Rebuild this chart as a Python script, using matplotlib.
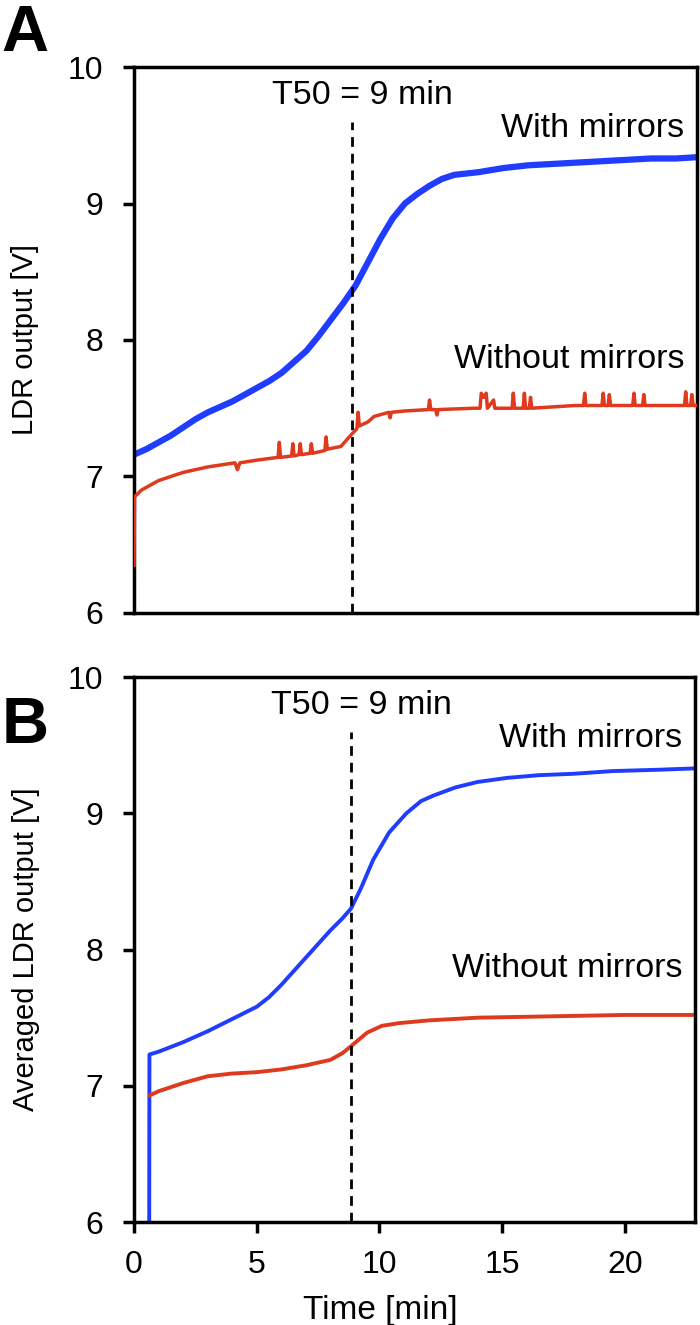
import numpy as np
import matplotlib.pyplot as plt

plt.rcParams['font.family'] = ['Liberation Sans', 'DejaVu Sans']

# panel A, raw LDR output
blue_a_t = [0, 0.5, 1, 1.5, 2, 2.5, 3, 3.5, 4, 4.5, 5, 5.5, 6, 6.5, 7, 7.5, 8, 8.5, 9, 9.5,
            10, 10.5, 11, 11.5, 12, 12.5, 13, 14, 15, 16, 17, 18, 19, 20, 21, 22, 22.9]
blue_a_v = [7.16, 7.20, 7.25, 7.30, 7.36, 7.42, 7.47, 7.51, 7.55, 7.60, 7.65, 7.70, 7.76, 7.84,
            7.92, 8.03, 8.15, 8.27, 8.40, 8.57, 8.74, 8.89, 9.00, 9.07, 9.13, 9.18, 9.21, 9.23,
            9.26, 9.28, 9.29, 9.30, 9.31, 9.32, 9.33, 9.33, 9.34]

red_a_t = [0.0, 0.02, 0.3, 1.0, 2.0, 3.0, 4.1, 4.2, 4.3, 5.0, 5.85, 5.9, 5.95, 6.4, 6.45, 6.5,
           6.7, 6.75, 6.8, 7.15, 7.2, 7.25, 7.75, 7.8, 7.85, 8.4, 8.84, 9.05, 9.1, 9.15, 9.5,
           9.75, 10.35, 10.4, 10.45, 11.0, 11.95, 12.0, 12.05, 12.25, 12.3, 12.35, 13.8, 14.05,
           14.1, 14.2, 14.3, 14.35, 14.6, 14.65, 15.35, 15.4, 15.45, 15.8, 15.85, 15.9, 16.05,
           16.1, 16.15, 17.9, 18.25, 18.3, 18.35, 19.0, 19.05, 19.1, 19.25, 19.3, 19.35, 20.25,
           20.3, 20.35, 20.65, 20.7, 20.75, 22.35, 22.4, 22.45, 22.6, 22.65, 22.7, 22.9]
red_a_v = [6.35, 6.85, 6.90, 6.97, 7.03, 7.07, 7.10, 7.05, 7.10, 7.12, 7.14, 7.25, 7.14, 7.15,
           7.24, 7.15, 7.16, 7.24, 7.16, 7.17, 7.24, 7.17, 7.19, 7.29, 7.20, 7.22, 7.31, 7.35,
           7.47, 7.37, 7.40, 7.44, 7.47, 7.43, 7.47, 7.48, 7.49, 7.56, 7.49, 7.49, 7.45, 7.49,
           7.50, 7.50, 7.61, 7.58, 7.61, 7.50, 7.56, 7.50, 7.50, 7.61, 7.50, 7.50, 7.61, 7.50,
           7.50, 7.58, 7.50, 7.52, 7.52, 7.61, 7.52, 7.52, 7.61, 7.52, 7.52, 7.60, 7.52, 7.52,
           7.61, 7.52, 7.52, 7.60, 7.52, 7.52, 7.62, 7.52, 7.52, 7.60, 7.52, 7.52]

# panel B, averaged output
blue_b_t = [0.62, 0.63, 1, 2, 3, 4, 5, 5.5, 6, 6.5, 7, 7.5, 8, 8.5, 8.84, 9.25, 9.75, 10.4,
            11.1, 11.7, 12.2, 13.1, 14, 15.2, 16.5, 17.9, 19.5, 21.4, 22.9]
blue_b_v = [5.9, 7.23, 7.25, 7.32, 7.40, 7.49, 7.58, 7.65, 7.74, 7.84, 7.94, 8.04, 8.14, 8.23,
            8.30, 8.45, 8.66, 8.86, 9.00, 9.09, 9.13, 9.19, 9.23, 9.26, 9.28, 9.29, 9.31, 9.32,
            9.33]

red_b_t = [0.65, 1, 2, 3, 4, 5, 6, 7, 7.5, 8, 8.5, 8.84, 9.5, 10.1, 10.8, 12, 14, 17, 20, 22.9]
red_b_v = [6.93, 6.96, 7.02, 7.07, 7.09, 7.10, 7.12, 7.15, 7.17, 7.19, 7.24, 7.29, 7.39, 7.44,
           7.46, 7.48, 7.50, 7.51, 7.52, 7.52]

t50 = 8.85
blue = "#1f3cff"
red = "#e03a1e"

fig = plt.figure(figsize=(7, 13.25), dpi=100)
axA = fig.add_axes([0.1914, 0.5374, 0.804, 0.412])
axB = fig.add_axes([0.1914, 0.0777, 0.801, 0.4113])

axA.plot(blue_a_t, blue_a_v, color=blue, lw=4.5)
axA.plot(red_a_t, red_a_v, color=red, lw=2.5, zorder=3)
axB.plot(blue_b_t, blue_b_v, color=blue, lw=2.8)
axB.plot(red_b_t, red_b_v, color=red, lw=2.8)

for ax, ylab in [(axA, "LDR output [V]"), (axB, "Averaged LDR output [V]")]:
    ax.axvline(t50, ymax=0.9, color="black", lw=2, ls=(0, (3.5, 2.5)))
    ax.set_xlim(0, 22.85)
    ax.set_ylim(6, 10)
    ax.set_yticks([6, 7, 8, 9, 10])
    for s in ax.spines.values():
        s.set_linewidth(2.5)
    ax.tick_params(axis="y", direction="out", length=8, width=2.5, labelsize=23, pad=14)
    ax.set_ylabel(ylab, fontsize=21)
    ax.yaxis.set_label_coords(-0.168, 0.5)
    ax.text(5.6, 9.79, "T50 = 9 min", fontsize=24.5, va="center")
    ax.text(22.35, 9.55, "With mirrors", fontsize=24.5, va="center", ha="right")
    ax.text(22.35, 7.86, "Without mirrors", fontsize=24.5, va="center", ha="right")

axA.tick_params(axis="x", bottom=False, labelbottom=False)
axB.set_xticks([0, 5, 10, 15, 20])
axB.tick_params(axis="x", direction="out", length=8, width=2.5, labelsize=23, pad=12)
axB.set_xlabel("Time [min]", fontsize=24)
axB.xaxis.set_label_coords(0.44, -0.133)

fig.text(0.002, 0.997, "A", fontsize=47, fontweight="bold", va="top", ha="left")
fig.text(0.002, 0.475, "B", fontsize=47, fontweight="bold", va="top", ha="left")

fig.savefig("out.png", dpi=100)
